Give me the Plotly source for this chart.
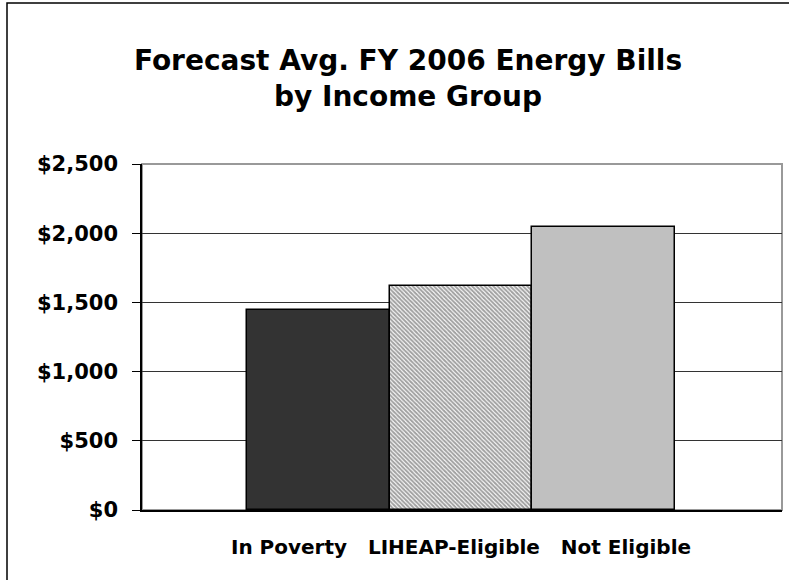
import plotly.graph_objects as go

categories = ["In Poverty", "LIHEAP-Eligible", "Not Eligible"]
values = [1444, 1616, 2042]
colors = ["#333333", "#ffffff", "#c0c0c0"]
patterns = ["", "\\", ""]
tick_vals = [0, 500, 1000, 1500, 2000, 2500]
tick_text = ["$" + format(v, ",d") for v in tick_vals]
title_text = "Forecast Avg. FY 2006 Energy Bills<br>by Income Group"

W, H = 789, 580
L, R, T, B = 142, 7, 164, 70
PW, PH = W - L - R, H - T - B
FONT = "DejaVu Sans"

fig = go.Figure()
fig.add_trace(go.Bar(
    x=categories, y=values, width=1,
    marker=dict(
        color=colors,
        line=dict(color="#000000", width=1.5),
        pattern=dict(shape=patterns, fgcolor="#000000",
                     size=3, solidity=0.65, fillmode="overlay"),
    ),
    showlegend=False, hoverinfo="skip",
))

sep = "\u00a0" * 3
joined = sep.join(categories)

fig.update_layout(
    width=W, height=H,
    margin=dict(l=L, r=R, t=T, b=B, pad=0),
    paper_bgcolor="#ffffff", plot_bgcolor="#ffffff",
    bargap=0,
    title=dict(text=title_text, x=408 / W, xanchor="center", xref="container",
               y=1 - 70 / H, yanchor="top", yref="container",
               font=dict(family=FONT, size=28, color="#000000", weight="bold")),
    xaxis=dict(
        type="category", range=[-1.236, 3.25],
        tickvals=[categories[1]], ticktext=[joined],
        ticks="", showgrid=False, zeroline=False,
        showline=True, linecolor="#000000", linewidth=1.5,
        tickfont=dict(family=FONT, size=20, color="#000000", weight="bold"),
        ticklabelstandoff=18,
    ),
    yaxis=dict(
        range=[0, 2500], tickvals=tick_vals, ticktext=tick_text,
        ticks="outside", ticklen=8, tickcolor="#000000", tickwidth=1,
        showgrid=True, gridcolor="#333333", gridwidth=1,
        zeroline=False, showline=True, linecolor="#000000", linewidth=1.5,
        tickfont=dict(family=FONT, size=21, color="#000000", weight="bold"),
        ticklabelstandoff=10,
    ),
    shapes=[
        dict(type="rect", xref="paper", yref="paper", x0=0, x1=1, y0=0, y1=1,
             line=dict(color="#999999", width=2), layer="below"),
        dict(type="rect", xref="paper", yref="paper",
             x0=(7 - L) / PW, x1=(W + 20 - L) / PW,
             y0=-(B + 20) / PH, y1=1 + (T - 3) / PH,
             line=dict(color="#000000", width=1.5), layer="below"),
    ],
)

fig.write_html("out.html")
